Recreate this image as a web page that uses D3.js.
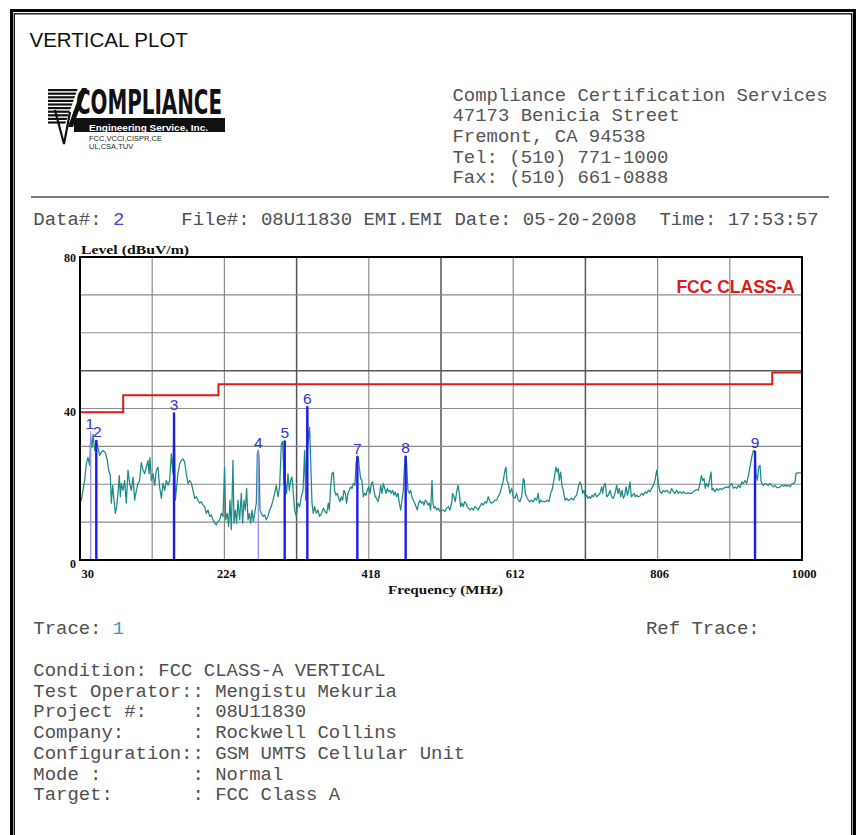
<!DOCTYPE html>
<html>
<head>
<meta charset="utf-8">
<script src="https://cdn.jsdelivr.net/npm/d3@7"></script>
<style>
  html, body { margin: 0; padding: 0; background: #fff; }
  svg { display: block; }
  .mono { font-family: "Liberation Mono", "Courier New", monospace; white-space: pre; }
  .serifb { font-family: "Liberation Serif", "Times New Roman", serif; font-weight: bold; }
</style>
</head>
<body>
<svg id="page" width="860" height="835"></svg>
<script>
// ---- Report text ----
const titleText = "VERTICAL PLOT";
const addressLines = [
  "Compliance Certification Services",
  "47173 Benicia Street",
  "Fremont, CA 94538",
  "Tel: (510) 771-1000",
  "Fax: (510) 661-0888"
];
const headerParts = ["Data#: ", "2", "     File#: 08U11830 EMI.EMI Date: 05-20-2008  Time: 17:53:57"];
const infoLines = [
  "Condition: FCC CLASS-A VERTICAL",
  "Test Operator:: Mengistu Mekuria",
  "Project #:    : 08U11830",
  "Company:      : Rockwell Collins",
  "Configuration:: GSM UMTS Cellular Unit",
  "Mode :        : Normal",
  "Target:       : FCC Class A"
];

// ---- Axes ----
const freqDomain = [30, 1000];
const levelDomain = [0, 80];
const xTicks = [30, 224, 418, 612, 806, 1000];
const yTicks = [0, 40, 80];
const xGrid = [127, 224, 321, 418, 515, 612, 709, 806, 903];
const yGrid = [10, 20, 30, 40, 50, 60, 70];

// ---- FCC Class A limit (dBuV/m), step edges in MHz ----
const limitFreq = [30, 88, 88, 216, 216, 960, 960, 1000];
const limitLevel = [39, 39, 43.5, 43.5, 46.4, 46.4, 49.5, 49.5];

// ---- Peak markers ----
const markerLabels = ["1", "2", "3", "4", "5", "6", "7", "8", "9"];
const markerFreq = [44.4, 51.9, 156.3, 269.6, 305.0, 335.4, 402.6, 467.5, 936.9];
const markerLevel = [33.9, 31.7, 38.9, 29.0, 31.5, 40.6, 27.4, 27.5, 28.8];

// ---- Measured trace [MHz, dBuV/m] ----
const trace = [
[30,15.5],[31.8,15.8],[36.3,21.0],[38.5,25.4],[40.7,27.1],[43.0,25.0],[44.3,32.3],[46.1,29.7],[47.5,33.2],[49.7,28.9],
[51.9,31.5],[54.2,29.7],[56.4,27.6],[58.6,28.4],[60.9,28.9],[64.0,28.4],[66.7,26.3],[68.5,23.7],[70.7,22.3],[72.1,15.0],
[73.9,19.7],[75.7,15.8],[77.5,12.3],[79.2,14.1],[81.0,17.6],[82.8,22.3],[84.2,16.7],[85.5,20.2],[87.8,18.4],[90.0,21.0],
[92.2,15.0],[94.5,23.7],[96.7,20.2],[99.0,18.4],[101.2,21.9],[103.4,15.8],[105.7,18.4],[107.9,20.2],[110.1,21.0],[112.4,25.8],
[114.6,23.7],[116.9,22.8],[119.1,24.5],[121.3,26.3],[122.7,22.8],[124.0,27.1],[125.8,21.0],[128.1,22.8],[130.3,19.7],[132.5,23.7],
[134.8,24.5],[137.0,19.3],[139.3,16.3],[141.5,20.2],[143.7,18.4],[146.0,21.0],[148.2,19.7],[150.4,21.0],[152.7,28.0],[154.9,22.8],
[156.3,38.9],[158.1,15.8],[159.8,19.3],[161.6,22.8],[163.9,25.4],[166.1,26.3],[168.4,26.7],[170.6,25.8],[172.8,22.8],[175.1,20.2],
[177.3,21.0],[179.6,20.2],[181.8,18.4],[184.0,16.3],[186.3,16.7],[188.5,15.8],[190.7,15.0],[193.0,15.4],[195.2,14.5],[197.5,14.1],
[199.7,12.3],[201.9,13.2],[204.2,11.5],[206.4,11.9],[208.7,10.6],[210.9,9.7],[213.1,9.3],[215.4,10.2],[217.6,10.6],[219.9,12.3],
[222.1,11.5],[224.3,24.5],[225.7,10.6],[227.9,12.3],[229.7,8.9],[231.5,15.8],[233.3,8.0],[235.5,26.3],[236.9,9.7],[238.7,13.2],
[240.5,9.7],[242.2,15.8],[244.5,10.6],[246.7,17.6],[248.5,9.7],[250.3,15.8],[252.1,13.2],[253.9,18.9],[255.7,10.6],[257.5,12.3],
[259.3,9.7],[261.1,13.2],[262.8,10.2],[264.6,12.3],[266.9,15.0],[268.2,28.0],[269.6,29.0],[270.5,27.1],[271.8,13.2],[273.6,12.3],
[275.8,11.5],[278.1,11.9],[280.3,10.6],[282.5,11.5],[284.8,13.2],[287.0,14.1],[289.3,15.8],[291.5,17.6],[293.7,19.7],[296.0,16.7],
[298.2,19.3],[300.5,30.6],[302.3,31.3],[304.0,20.0],[305.0,31.5],[305.8,21.0],[307.6,17.6],[309.4,22.8],[311.2,18.4],[313.0,21.0],
[314.8,21.9],[316.6,17.6],[318.4,13.2],[320.6,11.5],[322.8,15.0],[325.1,14.1],[327.3,16.7],[329.6,18.4],[331.8,28.9],[333.2,15.8],
[335.4,40.6],[336.3,30.6],[338.5,35.0],[339.9,26.3],[341.7,15.0],[343.4,12.3],[345.2,14.1],[347.5,12.3],[349.7,13.2],[351.9,11.5],
[354.6,12.3],[356.9,13.7],[359.1,12.8],[361.4,12.3],[363.6,15.0],[365.0,13.2],[366.7,19.3],[368.5,22.8],[370.3,23.2],[372.1,18.4],
[373.9,17.1],[375.7,17.6],[377.5,16.3],[379.3,15.4],[381.1,16.7],[382.9,15.8],[384.6,18.4],[386.4,17.6],[388.2,15.0],[390.0,17.6],
[391.8,18.4],[393.6,19.3],[395.4,18.9],[397.2,20.2],[399.4,19.7],[400.8,25.4],[402.6,27.4],[403.9,27.1],[405.2,24.5],[407.0,21.5],
[408.8,21.0],[410.6,16.7],[412.4,17.6],[414.2,17.1],[416.0,18.4],[417.8,19.3],[419.6,17.6],[421.4,20.2],[423.2,20.6],[424.9,18.4],
[426.7,16.7],[428.5,16.3],[430.3,15.4],[432.1,16.7],[433.9,19.7],[435.7,17.6],[437.5,20.2],[439.3,18.9],[441.1,17.6],[442.9,18.9],
[444.6,18.0],[446.4,18.4],[448.2,17.6],[450.0,18.4],[451.8,17.1],[453.6,18.0],[455.4,16.7],[457.2,17.6],[459.0,15.0],[460.8,13.2],
[462.6,15.8],[464.4,18.4],[466.1,25.4],[467.5,27.5],[468.8,25.4],[470.6,18.4],[472.4,17.6],[474.2,18.4],[476.0,16.7],[477.8,15.8],
[479.6,15.0],[481.4,14.1],[483.2,13.2],[484.9,15.0],[486.7,15.8],[488.5,15.0],[490.3,15.4],[492.1,14.5],[493.9,15.8],[495.7,15.4],
[497.5,14.5],[499.3,15.0],[501.1,13.2],[502.9,21.0],[504.2,15.0],[505.5,13.7],[507.3,14.1],[509.1,13.2],[511.4,13.7],[513.6,12.8],
[515.9,13.2],[518.1,13.2],[520.3,12.8],[522.6,13.7],[524.8,14.1],[527.0,13.2],[529.3,15.0],[530.6,17.6],[532.4,16.7],[534.2,15.4],
[536.0,18.0],[537.8,19.7],[539.6,17.6],[541.4,14.1],[543.2,15.0],[544.9,14.1],[546.7,15.4],[548.5,15.0],[550.3,14.1],[552.1,13.7],
[553.9,13.2],[556.2,13.7],[558.4,13.2],[560.6,14.1],[562.9,13.7],[565.1,13.2],[567.3,14.1],[569.6,15.0],[571.8,14.5],[574.1,15.4],
[576.3,15.0],[578.5,16.7],[580.8,15.4],[583.0,15.0],[585.3,15.4],[587.5,15.8],[589.7,15.8],[592.0,16.7],[594.2,17.6],[596.5,19.3],
[598.7,21.0],[600.9,23.7],[602.3,24.5],[603.6,21.0],[605.4,20.2],[607.6,17.6],[609.9,18.9],[612.1,16.7],[614.4,16.3],[616.6,17.6],
[618.8,15.8],[621.1,15.4],[623.3,16.7],[625.6,21.5],[626.9,21.0],[628.2,17.6],[630.0,16.7],[632.3,15.8],[634.5,15.4],[636.8,15.8],
[639.0,15.4],[641.2,16.3],[643.5,15.8],[645.7,17.6],[647.1,15.0],[648.8,15.8],[651.1,15.4],[653.3,15.4],[655.6,15.4],[657.8,15.8],
[660.0,15.4],[662.3,17.6],[664.1,18.4],[665.9,20.2],[668.1,22.8],[669.4,24.5],[671.2,23.2],[672.6,24.1],[673.9,21.0],[675.7,23.2],
[677.5,19.7],[679.3,18.4],[681.6,15.8],[683.9,16.3],[686.1,15.7],[688.3,16.0],[690.6,16.3],[692.8,15.8],[695.1,16.7],[697.3,17.1],
[699.5,19.3],[701.8,20.6],[703.6,19.7],[705.3,17.6],[707.1,18.4],[708.9,16.7],[710.7,17.1],[712.5,16.3],[714.3,16.7],[716.1,16.3],
[717.9,17.1],[719.7,16.7],[721.9,17.6],[724.2,16.7],[726.4,17.1],[728.6,17.6],[730.9,19.3],[732.2,17.6],[734.0,19.7],[735.8,20.2],
[737.6,16.7],[739.8,17.1],[742.1,18.4],[744.3,16.7],[746.5,16.3],[748.8,17.6],[751.0,19.7],[752.8,17.6],[754.6,18.9],[756.4,16.7],
[758.2,18.4],[760.0,16.3],[761.8,17.1],[763.6,19.3],[765.4,17.1],[767.1,18.4],[768.9,20.6],[770.7,16.7],[772.5,17.1],[774.3,17.6],
[776.1,16.7],[777.9,17.1],[780.1,16.7],[782.4,16.9],[784.6,17.6],[786.9,17.1],[789.1,18.0],[791.3,17.6],[793.6,18.4],[795.8,18.0],
[798.0,18.9],[800.3,19.7],[802.5,21.0],[804.8,23.7],[806.1,21.9],[807.4,19.7],[809.2,18.0],[811.5,17.6],[813.7,18.4],[815.9,18.0],
[818.2,18.4],[820.4,18.0],[822.7,17.6],[824.9,18.9],[827.2,18.0],[829.4,17.6],[831.6,18.4],[833.9,17.6],[836.1,18.0],[838.3,17.6],
[840.6,18.0],[842.8,17.6],[845.1,17.6],[847.3,17.7],[849.5,17.6],[851.8,17.6],[854.0,18.0],[856.3,18.4],[858.5,18.6],[860.7,18.4],
[863.0,20.2],[864.8,22.3],[866.6,21.0],[868.3,21.5],[870.1,18.9],[871.9,20.2],[874.2,19.3],[876.4,21.9],[877.8,23.2],[879.1,18.4],
[880.9,18.9],[883.1,18.0],[885.4,18.9],[887.6,18.4],[889.8,18.9],[892.1,18.6],[894.3,18.9],[896.6,19.1],[898.8,19.3],[901.0,19.1],
[903.3,19.7],[905.5,20.2],[907.8,18.9],[910.0,19.3],[912.2,18.9],[914.5,19.7],[916.7,19.1],[919.0,20.6],[921.2,20.2],[923.4,21.0],
[925.7,20.2],[927.9,22.3],[930.1,24.5],[932.4,27.1],[934.6,28.9],[936.9,28.8],[938.2,22.8],[940.0,21.0],[941.8,24.5],[943.6,25.0],
[944.9,21.0],[946.3,20.2],[948.1,19.7],[950.3,20.2],[952.5,20.0],[954.8,19.7],[957.0,20.2],[959.3,19.7],[961.5,19.3],[963.7,19.7],
[966.0,19.1],[968.2,19.1],[970.4,19.3],[972.7,19.7],[974.9,19.5],[977.2,19.7],[979.4,19.5],[981.6,19.7],[983.9,19.3],[986.1,20.0],
[988.4,20.2],[990.6,20.6],[991.9,22.8],[993.7,23.0],[995.5,23.0],[997.3,23.0],[1000,23.0]
];

// ================= drawing =================
const W = 860, H = 835;
const svg = d3.select("#page");
svg.append("rect").attr("width", W).attr("height", H).attr("fill", "#fff");

// page frame (heavy outer rule with a thin inner rule)
svg.append("rect").attr("x", 11.5).attr("y", 10.5).attr("width", 843).attr("height", H)
  .attr("fill", "none").attr("stroke", "#000").attr("stroke-width", 3);
svg.append("rect").attr("x", 14.3).attr("y", 13.8).attr("width", 837.4).attr("height", H)
  .attr("fill", "none").attr("stroke", "#111").attr("stroke-width", 1.4);

// title
svg.append("text").attr("x", 29.5).attr("y", 47)
  .style("font-family", "'Liberation Sans', Arial, sans-serif").style("font-size", "20.5px")
  .attr("fill", "#111").text(titleText);

// ---- company logo ----
const logo = svg.append("g");
d3.range(10).forEach(i => {
  logo.append("rect").attr("x", 48).attr("y", 89 + i * 3.6).attr("width", i < 3 ? 31 : 26)
    .attr("height", 2.2).attr("fill", "#111");
});
logo.append("polygon").attr("points", "64,127 78,88 82,88 68,127").attr("fill", "#fff");
logo.append("polygon").attr("points", "68,127 82,88 87,88 73,127").attr("fill", "#111");
logo.append("path").attr("d", "M55,110 L64,144 L70,112").attr("fill", "none")
  .attr("stroke", "#111").attr("stroke-width", 2.2);
logo.append("text").attr("x", 76).attr("y", 114)
  .style("font-family", "'Liberation Sans Narrow', 'DejaVu Sans Condensed', Arial, sans-serif")
  .style("font-weight", "bold").style("font-size", "34px")
  .attr("textLength", 146).attr("lengthAdjust", "spacingAndGlyphs")
  .attr("fill", "#111").text("COMPLIANCE");
logo.append("rect").attr("x", 74).attr("y", 118).attr("width", 151).attr("height", 14).attr("fill", "#111");
logo.append("text").attr("x", 89).attr("y", 130.5)
  .style("font-family", "'Liberation Sans', Arial, sans-serif").style("font-weight", "bold")
  .style("font-size", "9.5px").attr("textLength", 119).attr("lengthAdjust", "spacingAndGlyphs")
  .attr("fill", "#fff").text("Engineering Service, Inc.");
logo.append("text").attr("x", 89).attr("y", 140.5)
  .style("font-family", "'Liberation Sans', Arial, sans-serif").style("font-size", "7.5px")
  .attr("fill", "#222").text("FCC,VCCI,CISPR,CE");
logo.append("text").attr("x", 89).attr("y", 149)
  .style("font-family", "'Liberation Sans', Arial, sans-serif").style("font-size", "7.5px")
  .attr("fill", "#222").text("UL,CSA,TUV");

// ---- address block ----
svg.append("g").selectAll("text").data(addressLines).join("text")
  .attr("class", "mono").attr("x", 452.5).attr("y", (d, i) => 100.5 + i * 20.7)
  .style("font-size", "18.95px").attr("fill", "#555").text(d => d);

svg.append("line").attr("x1", 31).attr("x2", 829).attr("y1", 197).attr("y2", 197)
  .attr("stroke", "#7a7a7a").attr("stroke-width", 1.8);

// ---- run header ----
const hdr = svg.append("text").attr("class", "mono").attr("x", 33.3).attr("y", 225)
  .attr("xml:space", "preserve").style("font-size", "18.98px").attr("fill", "#505050");
hdr.append("tspan").text(headerParts[0]);
hdr.append("tspan").attr("fill", "#4848c8").text(headerParts[1]);
hdr.append("tspan").text(headerParts[2]);

// ---- plot ----
const plot = { left: 80, right: 802, top: 257, bottom: 560 };
const x = d3.scaleLinear().domain(freqDomain).range([plot.left, plot.right]);
const y = d3.scaleLinear().domain(levelDomain).range([plot.bottom, plot.top]);

const gGrid = svg.append("g");
const darkV = new Set([321, 515, 709]);
gGrid.selectAll("line.v").data(xGrid).join("line").attr("class", "v")
  .attr("x1", d => x(d)).attr("x2", d => x(d)).attr("y1", plot.top).attr("y2", plot.bottom)
  .attr("stroke", d => darkV.has(d) ? "#555" : "#8c8c8c").attr("stroke-width", d => darkV.has(d) ? 1.5 : 1.2);
gGrid.selectAll("line.h").data(yGrid).join("line").attr("class", "h")
  .attr("x1", plot.left).attr("x2", plot.right).attr("y1", d => y(d)).attr("y2", d => y(d))
  .attr("stroke", d => d === 50 ? "#5a5a5a" : "#8c8c8c").attr("stroke-width", d => d === 50 ? 1.5 : 1.2);

// limit line
const limitPts = limitFreq.map((f, i) => [f, limitLevel[i]]);
svg.append("path").datum(limitPts)
  .attr("d", d3.line().x(d => x(d[0])).y(d => y(d[1])))
  .attr("fill", "none").attr("stroke", "#e01a1a").attr("stroke-width", 2);

// measured trace
svg.append("path").datum(trace)
  .attr("d", d3.line().x(d => x(d[0])).y(d => y(d[1])))
  .attr("fill", "none").attr("stroke", "#1c8a86").attr("stroke-width", 1.25)
  .attr("stroke-linejoin", "round");

// markers
const faint = new Set(["1", "4"]);
const gMk = svg.append("g");
markerLabels.forEach((lab, i) => {
  const mx = x(markerFreq[i]);
  gMk.append("line").attr("x1", mx).attr("x2", mx).attr("y1", y(0)).attr("y2", y(markerLevel[i]))
    .attr("stroke", faint.has(lab) ? "#9a8cf2" : "#1c1cee")
    .attr("stroke-width", faint.has(lab) ? 1.3 : 2.4);
  gMk.append("text").attr("x", mx + (lab === "1" ? -1 : lab === "2" ? 1 : 0)).attr("y", y(markerLevel[i]) - 2.5)
    .attr("text-anchor", "middle")
    .style("font-family", "'Liberation Sans', Arial, sans-serif").style("font-size", "15.5px")
    .attr("fill", "#3434d0").text(lab);
});

// plot frame
svg.append("rect").attr("x", plot.left).attr("y", plot.top)
  .attr("width", plot.right - plot.left).attr("height", plot.bottom - plot.top)
  .attr("fill", "none").attr("stroke", "#000").attr("stroke-width", 2);

// limit caption
svg.append("text").attr("x", 795).attr("y", 293).attr("text-anchor", "end")
  .style("font-family", "'Liberation Sans', Arial, sans-serif").style("font-weight", "bold")
  .style("font-size", "17.5px").attr("fill", "#e01a1a").text("FCC CLASS-A");

// axes
const xAxis = svg.append("g").attr("transform", `translate(0,${plot.bottom})`)
  .call(d3.axisBottom(x).tickValues(xTicks).tickSize(0).tickPadding(0).tickFormat(d3.format("d")));
xAxis.select(".domain").remove();
xAxis.selectAll("text").attr("class", "serifb").attr("dy", null).attr("y", 18)
  .attr("fill", "#111").style("font-size", "12.5px")
  .attr("text-anchor", d => d === xTicks[0] ? "start" : "middle")
  .attr("x", d => d === xTicks[0] ? 1 : 1.5);

const yAxis = svg.append("g").attr("transform", `translate(${plot.left},0)`)
  .call(d3.axisLeft(y).tickValues(yTicks).tickSize(0).tickPadding(4).tickFormat(d3.format("d")));
yAxis.select(".domain").remove();
yAxis.selectAll("text").attr("class", "serifb").attr("dy", null)
  .attr("y", d => d === 80 ? 4.5 : 7).attr("x", -4)
  .attr("fill", "#111").style("font-size", "12px");

svg.append("text").attr("class", "serifb").attr("x", 81).attr("y", 254)
  .style("font-size", "12.5px").attr("textLength", 108).attr("lengthAdjust", "spacingAndGlyphs")
  .attr("fill", "#111").text("Level (dBuV/m)");
svg.append("text").attr("class", "serifb").attr("x", 445.5).attr("y", 594)
  .attr("text-anchor", "middle").style("font-size", "12.5px")
  .attr("textLength", 115).attr("lengthAdjust", "spacingAndGlyphs")
  .attr("fill", "#111").text("Frequency (MHz)");

// ---- trace info and test conditions ----
const tr = svg.append("text").attr("class", "mono").attr("x", 33.3).attr("y", 634)
  .attr("xml:space", "preserve").style("font-size", "18.95px").attr("fill", "#505050");
tr.append("tspan").text("Trace: ");
tr.append("tspan").attr("fill", "#3a9ab0").text("1");
svg.append("text").attr("class", "mono").attr("x", 646).attr("y", 634)
  .attr("xml:space", "preserve").style("font-size", "18.95px").attr("fill", "#505050").text("Ref Trace:");

svg.append("g").selectAll("text").data(infoLines).join("text")
  .attr("class", "mono").attr("xml:space", "preserve")
  .attr("x", 33.3).attr("y", (d, i) => 676 + i * 20.7)
  .style("font-size", "18.95px").attr("fill", "#505050").text(d => d);
</script>
</body>
</html>
